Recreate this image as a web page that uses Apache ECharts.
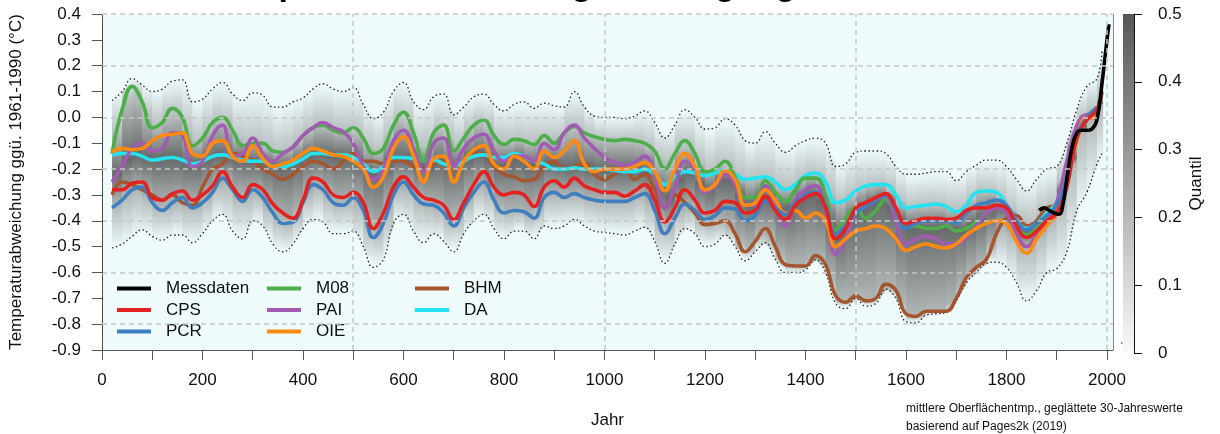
<!DOCTYPE html>
<html>
<head>
<meta charset="utf-8">
<title>Temperaturrekonstruktionen</title>
<script src="https://cdn.jsdelivr.net/npm/echarts@6/dist/echarts.min.js"></script>
<style>body{margin:0;background:#fff;}</style>
</head>
<body>
<div id="main" style="width:1220px;height:434px;"></div>
<script>
// Jahre der geglaetteten Rekonstruktionen (20-Jahres-Raster)
var years = [
  20, 40, 60, 80, 100, 120, 140, 160, 180, 200,
  220, 240, 260, 280, 300, 320, 340, 360, 380, 400,
  420, 440, 460, 480, 500, 520, 540, 560, 580, 600,
  620, 640, 660, 680, 700, 720, 740, 760, 780, 800,
  820, 840, 860, 880, 900, 920, 940, 960, 980, 1000,
  1020, 1040, 1060, 1080, 1100, 1120, 1140, 1160, 1180, 1200,
  1220, 1240, 1260, 1280, 1300, 1320, 1340, 1360, 1380, 1400,
  1420, 1440, 1460, 1480, 1500, 1520, 1540, 1560, 1580, 1600,
  1620, 1640, 1660, 1680, 1700, 1720, 1740, 1760, 1780, 1800,
  1820, 1840, 1860, 1880, 1900, 1920, 1940, 1960, 1980, 1990
];

var cps = [
  -0.28, -0.28, -0.255, -0.25, -0.31, -0.32, -0.295, -0.285, -0.32, -0.3,
  -0.265, -0.21, -0.27, -0.31, -0.26, -0.28, -0.335, -0.37, -0.39, -0.32,
  -0.235, -0.25, -0.3, -0.31, -0.29, -0.33, -0.43, -0.37, -0.27, -0.23,
  -0.27, -0.31, -0.32, -0.34, -0.395, -0.33, -0.26, -0.21, -0.27, -0.3,
  -0.29, -0.3, -0.345, -0.27, -0.245, -0.27, -0.235, -0.265, -0.28, -0.29,
  -0.29, -0.305, -0.285, -0.26, -0.32, -0.405, -0.35, -0.28, -0.32, -0.37,
  -0.36, -0.325, -0.33, -0.37, -0.36, -0.305, -0.36, -0.395, -0.34, -0.31,
  -0.295, -0.35, -0.47, -0.43, -0.35, -0.33, -0.31, -0.295, -0.35, -0.41,
  -0.4, -0.39, -0.39, -0.395, -0.39, -0.36, -0.35, -0.35, -0.34, -0.35,
  -0.42, -0.465, -0.44, -0.4, -0.37, -0.27, -0.08, -0.01, 0.03, 0.1
];

var pcr = [
  -0.35, -0.32, -0.28, -0.27, -0.33, -0.36, -0.33, -0.31, -0.35, -0.33,
  -0.29, -0.235, -0.28, -0.325, -0.28, -0.31, -0.37, -0.41, -0.405, -0.33,
  -0.26, -0.28, -0.33, -0.34, -0.31, -0.36, -0.465, -0.41, -0.3, -0.25,
  -0.3, -0.335, -0.34, -0.37, -0.42, -0.35, -0.29, -0.25, -0.32, -0.37,
  -0.36, -0.365, -0.39, -0.31, -0.29, -0.31, -0.295, -0.31, -0.32, -0.325,
  -0.325, -0.325, -0.31, -0.295, -0.36, -0.45, -0.39, -0.335, -0.36, -0.395,
  -0.38, -0.35, -0.355, -0.4, -0.38, -0.325, -0.35, -0.375, -0.33, -0.3,
  -0.29, -0.34, -0.45, -0.42, -0.37, -0.345, -0.32, -0.3, -0.36, -0.43,
  -0.41, -0.4, -0.4, -0.4, -0.41, -0.37, -0.34, -0.33, -0.32, -0.34,
  -0.4, -0.435, -0.41, -0.38, -0.34, -0.24, -0.07, 0.0, 0.04, null
];

var m08 = [
  -0.14, 0.03, 0.12, 0.06, -0.04, -0.02, 0.035, 0.0, -0.11, -0.08,
  -0.02, 0.0, -0.05, -0.11, -0.1, -0.1, -0.13, -0.135, -0.115, -0.07,
  -0.04, -0.03, -0.05, -0.06, -0.04, -0.08, -0.14, -0.12, -0.03, 0.02,
  -0.06, -0.17, -0.06, -0.03, -0.13, -0.08, -0.03, -0.01, -0.07, -0.105,
  -0.085, -0.09, -0.105, -0.07, -0.1, -0.06, -0.035, -0.06, -0.075, -0.085,
  -0.09, -0.085, -0.09, -0.1, -0.13, -0.2, -0.14, -0.09, -0.14, -0.21,
  -0.2, -0.17, -0.23, -0.31, -0.31, -0.245, -0.29, -0.325, -0.28, -0.235,
  -0.235, -0.3, -0.44, -0.39, -0.35, -0.39, -0.36, -0.315, -0.38, -0.43,
  -0.42, -0.43, -0.43, -0.42, -0.44, -0.43, -0.405, -0.37, -0.345, -0.35,
  -0.42, -0.455, -0.43, -0.39, -0.34, -0.2, -0.04, 0.0, 0.01, null
];

var pai = [
  -0.25, -0.19, -0.12, -0.1, -0.13, -0.12, -0.06, -0.07, -0.19, -0.17,
  -0.07, -0.03, -0.15, -0.14, -0.08, -0.14, -0.17, -0.14, -0.115, -0.07,
  -0.04, -0.02, -0.04, -0.055, -0.1, -0.19, -0.24, -0.2, -0.09, -0.05,
  -0.12, -0.21, -0.1, -0.08, -0.19, -0.12, -0.08, -0.065, -0.13, -0.17,
  -0.15, -0.15, -0.17, -0.1, -0.125, -0.06, -0.03, -0.08, -0.12, -0.155,
  -0.175, -0.185, -0.175, -0.15, -0.22, -0.35, -0.27, -0.17, -0.2, -0.29,
  -0.265, -0.22, -0.26, -0.34, -0.34, -0.265, -0.34, -0.42, -0.32, -0.28,
  -0.265, -0.36, -0.53, -0.47, -0.37, -0.34, -0.32, -0.305, -0.4, -0.49,
  -0.47, -0.46, -0.47, -0.49, -0.49, -0.465, -0.42, -0.37, -0.35, -0.37,
  -0.45, -0.5, -0.46, -0.41, -0.33, -0.17, -0.03, 0.01, 0.0, null
];

var oie = [
  -0.135, -0.12, -0.125, -0.12, -0.09, -0.07, -0.065, -0.06, -0.14, -0.15,
  -0.1, -0.09, -0.15, -0.17, -0.11, -0.16, -0.19, -0.18, -0.165, -0.14,
  -0.12, -0.13, -0.145, -0.15, -0.17, -0.2, -0.27, -0.23, -0.12, -0.075,
  -0.15, -0.25, -0.16, -0.15, -0.25, -0.17, -0.125, -0.11, -0.18, -0.2,
  -0.15, -0.17, -0.2, -0.13, -0.155, -0.13, -0.09, -0.18, -0.21, -0.2,
  -0.2, -0.2, -0.19, -0.175, -0.21, -0.285, -0.2, -0.14, -0.19, -0.28,
  -0.26, -0.205, -0.24, -0.34, -0.33, -0.28, -0.32, -0.37, -0.36, -0.39,
  -0.37, -0.4, -0.5, -0.47, -0.44, -0.43, -0.42, -0.43, -0.47, -0.515,
  -0.5, -0.49, -0.5, -0.505, -0.49, -0.455, -0.43, -0.41, -0.4, -0.41,
  -0.48, -0.525, -0.47, -0.42, -0.37, -0.25, -0.09, 0.0, 0.0, null
];

var bhm = [
  -0.3, -0.25, -0.26, -0.28, -0.3, -0.32, -0.3, -0.33, -0.34, -0.27,
  -0.2, -0.18, -0.14, -0.15, -0.17, -0.2, -0.22, -0.24, -0.22, -0.19,
  -0.17, -0.18, -0.2, -0.17, -0.14, -0.17, -0.17, -0.18, -0.17, -0.17,
  -0.19, -0.2, -0.18, -0.17, -0.2, -0.17, -0.14, -0.14, -0.19, -0.22,
  -0.23, -0.245, -0.24, -0.19, -0.17, -0.2, -0.19, -0.18, -0.22, -0.24,
  -0.22, -0.2, -0.24, -0.22, -0.28, -0.35, -0.3, -0.33, -0.37, -0.415,
  -0.41, -0.4, -0.45, -0.52, -0.48, -0.43, -0.5, -0.57, -0.575, -0.575,
  -0.535, -0.57, -0.69, -0.715, -0.69, -0.71, -0.7, -0.645, -0.67, -0.76,
  -0.77, -0.75, -0.75, -0.75, -0.7, -0.62, -0.58, -0.55, -0.45, -0.39,
  -0.38, -0.42, -0.4, -0.35, -0.34, -0.24, -0.07, 0.0, 0.0, null
];

var da = [
  -0.145, -0.14, -0.14, -0.15, -0.165, -0.16, -0.155, -0.165, -0.18, -0.17,
  -0.15, -0.145, -0.155, -0.165, -0.17, -0.17, -0.19, -0.19, -0.18, -0.16,
  -0.14, -0.14, -0.145, -0.145, -0.155, -0.18, -0.21, -0.19, -0.155, -0.155,
  -0.16, -0.165, -0.165, -0.18, -0.19, -0.17, -0.15, -0.145, -0.155, -0.155,
  -0.14, -0.15, -0.17, -0.18, -0.2, -0.2, -0.195, -0.2, -0.2, -0.2,
  -0.205, -0.21, -0.21, -0.2, -0.22, -0.26, -0.23, -0.21, -0.215, -0.225,
  -0.215, -0.205, -0.22, -0.24, -0.235, -0.23, -0.25, -0.28, -0.26, -0.225,
  -0.215, -0.25, -0.33, -0.32, -0.285, -0.265, -0.26, -0.26, -0.3, -0.35,
  -0.345, -0.34, -0.335, -0.345, -0.365, -0.34, -0.29, -0.285, -0.29, -0.34,
  -0.4, -0.43, -0.41, -0.37, -0.33, -0.22, -0.06, 0.0, 0.01, null
];

// gepunktete Huelle (obere / untere Grenze)
var upper = [
  0.065, 0.1, 0.15, 0.125, 0.1, 0.11, 0.14, 0.145, 0.06, 0.07,
  0.11, 0.135, 0.09, 0.065, 0.095, 0.085, 0.04, 0.04, 0.06, 0.075,
  0.11, 0.13, 0.11, 0.1, 0.115, 0.05, -0.005, 0.02, 0.1, 0.135,
  0.06, 0.03, 0.08, 0.09, 0.01, 0.04, 0.08, 0.09, 0.05, 0.025,
  0.05, 0.06, 0.035, 0.055, 0.045, 0.04, 0.1, 0.04, 0.005, 0.0,
  0.0, -0.005, 0.005, 0.025, -0.02, -0.08, -0.03, 0.03, 0.0, -0.045,
  -0.04, -0.005, -0.03, -0.09, -0.1, -0.055, -0.1, -0.135, -0.11, -0.09,
  -0.08, -0.1, -0.19, -0.18, -0.135, -0.13, -0.13, -0.14, -0.19, -0.22,
  -0.22, -0.215, -0.21, -0.21, -0.245, -0.21, -0.185, -0.165, -0.165, -0.19,
  -0.24, -0.285, -0.24, -0.2, -0.19, -0.1, 0.03, 0.12, 0.15, 0.26
];

var lower = [
  -0.505, -0.49, -0.46, -0.435, -0.46, -0.475, -0.455, -0.455, -0.485, -0.45,
  -0.4, -0.375, -0.44, -0.47, -0.4, -0.42, -0.49, -0.52, -0.49, -0.43,
  -0.395, -0.405, -0.45, -0.45, -0.44, -0.5, -0.58, -0.55, -0.41, -0.375,
  -0.44, -0.485, -0.45, -0.48, -0.52, -0.45, -0.4, -0.375, -0.43, -0.47,
  -0.44, -0.44, -0.47, -0.42, -0.43, -0.42, -0.395, -0.42, -0.44, -0.445,
  -0.45, -0.455, -0.44, -0.425, -0.48, -0.565, -0.49, -0.43, -0.45, -0.5,
  -0.49, -0.455, -0.5, -0.555, -0.52, -0.485, -0.55, -0.6, -0.6, -0.59,
  -0.55, -0.6, -0.72, -0.74, -0.7, -0.73, -0.72, -0.665, -0.7, -0.79,
  -0.795, -0.765, -0.76, -0.755, -0.71, -0.64, -0.6, -0.565, -0.56, -0.58,
  -0.64, -0.71, -0.67, -0.6, -0.585, -0.52, -0.36, -0.29, -0.18, -0.14
];

// Messdaten
var measYears = [1865, 1875, 1885, 1895, 1905, 1912, 1920, 1930, 1940, 1950, 1960, 1970, 1980, 1990, 2000, 2004];
var measValues = [-0.36, -0.35, -0.36, -0.37, -0.375, -0.34, -0.24, -0.12, -0.06, -0.05, -0.05, -0.045, -0.01, 0.13, 0.3, 0.36];

var tickYears = [0, 100, 200, 300, 400, 500, 600, 700, 800, 900, 1000, 1100, 1200, 1300, 1400, 1500, 1600, 1700, 1800, 1900, 2000];
var labelYears = [0, 200, 400, 600, 800, 1000, 1200, 1400, 1600, 1800, 2000];
var hGrid = [0.4, 0.2, 0, -0.2, -0.4, -0.6, -0.8];
var vGrid = [500, 1000, 1500, 2000];
var quantilMax = 0.5;

var FONT = 'Liberation Sans, Arial, sans-serif';
var BG = [239, 251, 251];

function zip(xs, ys) {
  return xs.map(function (x, i) { return [x, ys[i]]; });
}

// Spannweite und Median der Rekonstruktionen fuer die Grauschattierung
var recon = [cps, pcr, m08, pai, oie, bhm, da];
var lo = [], hi = [], med = [];
years.forEach(function (y, i) {
  var v = recon.map(function (s) { return s[i]; })
    .filter(function (x) { return x !== null; })
    .sort(function (a, b) { return a - b; });
  lo.push(v[0]);
  hi.push(v[v.length - 1]);
  med.push(v[Math.floor(v.length / 2)]);
});

// deckende Grautoene (Mischung mit dem Hintergrund), damit Ueberlappungen keine Streifen geben
function shade(al) {
  var c = BG.map(function (b) { return Math.round(b * (1 - al) + 70 * al); });
  return 'rgb(' + c.join(',') + ')';
}

function renderBand(params, api) {
  var i = params.dataIndex, j = i + 1;
  if (j >= years.length) return;
  var a = api.coord([years[i], upper[i]]);
  var b = api.coord([years[j], upper[j]]);
  var c = api.coord([years[j], lower[j]]);
  var d = api.coord([years[i], lower[i]]);
  b[0] += 1.2; c[0] += 1.2;
  var top = Math.min(a[1], b[1]), bot = Math.max(c[1], d[1]);
  function pos(arr) {
    var y = (api.coord([years[i], arr[i]])[1] + api.coord([years[j], arr[j]])[1]) / 2;
    return Math.min(1, Math.max(0, (y - top) / (bot - top)));
  }
  var pHi = pos(hi), pMed = pos(med), pLo = pos(lo);
  var fill = new echarts.graphic.LinearGradient(0, top, 0, bot, [
    { offset: 0, color: shade(0.0) },
    { offset: pHi, color: shade(0.32) },
    { offset: pMed, color: shade(0.8) },
    { offset: pLo, color: shade(0.38) },
    { offset: 1, color: shade(0.0) }
  ], true);
  return { type: 'polygon', shape: { points: [a, b, c, d] }, style: { fill: fill } };
}

function recoLine(name, data, color, z) {
  return {
    name: name, type: 'line', data: zip(years, data), color: color,
    showSymbol: false, symbol: 'none', smooth: 0.45, z: z,
    lineStyle: { width: 3.6, color: color }
  };
}

var legendCommon = {
  orient: 'vertical', top: 280, padding: 0, itemGap: 4.5,
  itemWidth: 34, itemHeight: 4, icon: 'rect', selectedMode: false,
  textStyle: { fontSize: 17, color: '#111', fontFamily: FONT, padding: [0, 0, 0, 10] }
};

var chart = echarts.init(document.getElementById('main'));
chart.setOption({
  animation: false,
  backgroundColor: '#fff',
  textStyle: { fontFamily: FONT },
  title: {
    text: 'Temperaturentwicklung der vergangenen 2000 Jahre',
    left: 206, top: -36,
    textStyle: { fontSize: 34, fontWeight: 'bold', color: '#000', fontFamily: FONT }
  },
  legend: [
    Object.assign({ left: 117, data: ['Messdaten', 'CPS', 'PCR'] }, legendCommon),
    Object.assign({ left: 267, data: ['M08', 'PAI', 'OIE'] }, legendCommon),
    Object.assign({ left: 415, data: ['BHM', 'DA'] }, legendCommon)
  ],
  grid: [
    { left: 102, right: 107, top: 14, bottom: 81, show: true, backgroundColor: '#effbfb', borderWidth: 0 },
    { left: 1123, width: 11, top: 14, bottom: 81 }
  ],
  xAxis: [
    {
      type: 'value', min: 0, max: 2012, gridIndex: 0,
      axisLine: { onZero: false, lineStyle: { color: '#555' } },
      axisTick: { customValues: tickYears, length: 10, lineStyle: { color: '#555' } },
      axisLabel: {
        customValues: labelYears, fontSize: 17, color: '#111', margin: 22,
        formatter: function (v) { return String(v); }
      },
      splitLine: { show: false },
      name: 'Jahr', nameLocation: 'middle', nameGap: 62,
      nameTextStyle: { fontSize: 17, color: '#111' }
    },
    { type: 'category', gridIndex: 1, data: [''], show: false }
  ],
  yAxis: [
    {
      type: 'value', min: -0.9, max: 0.4, interval: 0.1, gridIndex: 0,
      axisLine: { show: true, lineStyle: { color: '#555' } },
      axisTick: { show: true, length: 10, lineStyle: { color: '#555' } },
      axisLabel: {
        fontSize: 17, color: '#111', margin: 21,
        formatter: function (v) { return Math.abs(v) < 1e-9 ? '0.0' : v.toFixed(1); }
      },
      splitLine: { show: false },
      name: 'Temperaturabweichung ggü. 1961-1990 (°C)', nameLocation: 'middle', nameGap: 77,
      nameTextStyle: { fontSize: 17, color: '#111' }
    },
    {
      type: 'value', min: 0, max: quantilMax, interval: 0.1, gridIndex: 1, position: 'right',
      axisLine: { show: true, lineStyle: { color: '#111' } },
      axisTick: { show: true, length: 8, lineStyle: { color: '#111' } },
      axisLabel: { fontSize: 17, color: '#111', margin: 24 },
      splitLine: { show: false },
      name: 'Quantil', nameLocation: 'middle', nameGap: 54, nameRotate: 90,
      nameTextStyle: { fontSize: 17, color: '#111' }
    }
  ],
  graphic: [
    { type: 'text', left: 906, top: 403, style: { text: 'mittlere Oberflächentmp., geglättete 30-Jahreswerte', font: '12px ' + FONT, fill: '#111' } },
    { type: 'text', left: 906, top: 421, style: { text: 'basierend auf Pages2k (2019)', font: '12px ' + FONT, fill: '#111' } },
    { type: 'line', shape: { x1: 1121, y1: 343, x2: 1134, y2: 343 }, style: { stroke: '#222', lineWidth: 1.2, lineDash: [1.5, 2.5] } }
  ],
  series: [
    {
      name: 'Quantil', type: 'custom', xAxisIndex: 0, yAxisIndex: 0, z: 1, silent: true,
      renderItem: renderBand,
      data: years.slice(0, -1).map(function (y, i) { return [y, upper[i], lower[i]]; }),
      encode: { x: 0, y: [1, 2] }
    },
    {
      name: 'obere', type: 'line', data: zip(years, upper), symbol: 'none', smooth: 0.45, z: 2,
      lineStyle: { width: 1.3, color: '#222', type: [1.5, 2.5] }
    },
    {
      name: 'untere', type: 'line', data: zip(years, lower), symbol: 'none', smooth: 0.45, z: 2,
      lineStyle: { width: 1.3, color: '#222', type: [1.5, 2.5] }
    },
    recoLine('BHM', bhm, '#a6562e', 3),
    recoLine('DA', da, '#22e3ef', 3),
    recoLine('M08', m08, '#4dae4a', 3),
    recoLine('PAI', pai, '#a25bb3', 3),
    recoLine('OIE', oie, '#ff8a12', 3),
    recoLine('PCR', pcr, '#3f7fc0', 3),
    recoLine('CPS', cps, '#e42222', 3),
    {
      name: 'Messdaten', type: 'line', data: zip(measYears, measValues), color: '#000',
      symbol: 'none', smooth: 0.45, z: 4, lineStyle: { width: 3.6, color: '#000' }
    },
    {
      name: 'Gitter', type: 'line', data: [], z: 5, silent: true,
      markLine: {
        silent: true, symbol: 'none', label: { show: false },
        lineStyle: { color: '#c6c6c6', type: [5, 4], width: 1.5 },
        data: hGrid.map(function (v) { return { yAxis: v }; })
          .concat(vGrid.map(function (v) { return { xAxis: v }; }))
          .concat([
            { xAxis: 0, lineStyle: { color: '#444', type: [4, 3], width: 1 } },
            { xAxis: 2012, lineStyle: { color: '#888', type: 'solid', width: 1 } }
          ])
      }
    },
    {
      name: 'Farbskala', type: 'bar', xAxisIndex: 1, yAxisIndex: 1, data: [quantilMax],
      barWidth: '100%', silent: true,
      itemStyle: {
        color: new echarts.graphic.LinearGradient(0, 0, 0, 1, [
          { offset: 0, color: '#575757' },
          { offset: 1, color: '#fafafa' }
        ])
      }
    }
  ]
});
</script>
</body>
</html>
